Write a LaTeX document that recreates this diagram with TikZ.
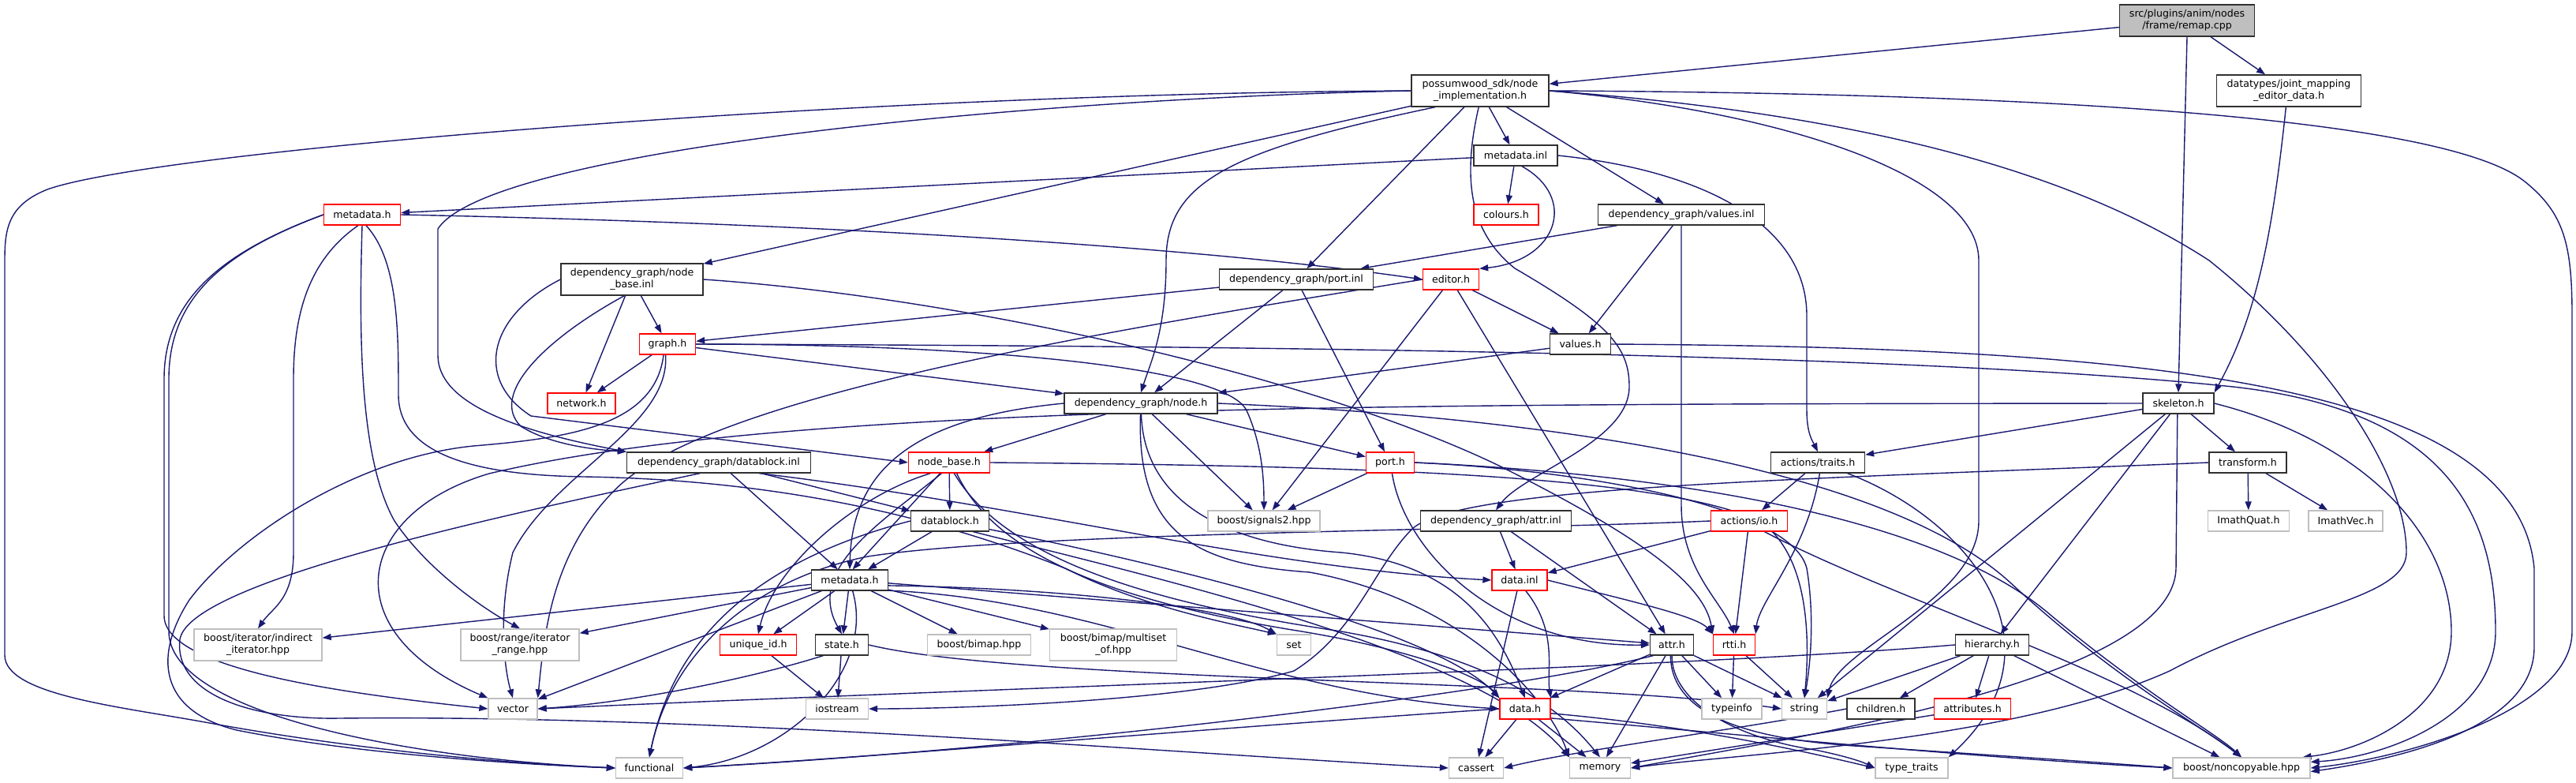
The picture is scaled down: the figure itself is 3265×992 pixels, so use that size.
\documentclass[tikz,border=0pt]{standalone}
\usepackage{fontspec}
\setmainfont{DejaVu Sans}
\usetikzlibrary{arrows.meta,backgrounds}
\definecolor{edgec}{HTML}{191970}
\definecolor{sysgray}{HTML}{BFBFBF}
\definecolor{bordk}{HTML}{303030}
\begin{document}
\begin{tikzpicture}[x=1pt,y=-1pt,
  every node/.style={font=\fontsize{12.6}{15}\selectfont, inner sep=0pt, align=center, minimum height=26pt, fill=white, text=black},
  blkbox/.style={draw=bordk, line width=1.3pt},
  redbox/.style={draw=red, line width=1.3pt},
  sysbox/.style={draw=sysgray, line width=1.3pt},
  conn/.style={draw=edgec, line width=1.4pt, -{Triangle[length=11pt,width=8pt]}}]
\path[use as bounding box] (0,0) rectangle (3265,992);
% nodes
\node[blkbox,fill=sysgray,minimum width=171pt,minimum height=40pt] (remap) at (2772,26) {src/plugins/anim/nodes\\/frame/remap.cpp};
\node[blkbox,minimum width=174pt,minimum height=40pt] (poss) at (1876,115) {possumwood\_sdk/node\\\_implementation.h};
\node[blkbox,minimum width=183pt,minimum height=40pt] (jme) at (2901,115) {datatypes/joint\_mapping\\\_editor\_data.h};
\node[blkbox,minimum width=106pt] (minl) at (1921,197) {metadata.inl};
\node[redbox,minimum width=82pt] (colours) at (1909,272) {colours.h};
\node[blkbox,minimum width=211pt] (valinl) at (2131,272) {dependency\_graph/values.inl};
\node[redbox,minimum width=97pt] (pmeta) at (459,272) {metadata.h};
\node[blkbox,minimum width=180pt,minimum height=40pt] (nbinl) at (801,354) {dependency\_graph/node\\\_base.inl};
\node[blkbox,minimum width=195pt] (portinl) at (1643,354) {dependency\_graph/port.inl};
\node[redbox,minimum width=71pt] (editor) at (1839,354) {editor.h};
\node[redbox,minimum width=71pt] (graph) at (846,436) {graph.h};
\node[blkbox,minimum width=77pt] (valh) at (2003,436) {values.h};
\node[redbox,minimum width=86pt] (network) at (737,511) {network.h};
\node[blkbox,minimum width=194pt] (nodeh) at (1446,511) {dependency\_graph/node.h};
\node[blkbox,minimum width=90pt] (skel) at (2761,511) {skeleton.h};
\node[blkbox,minimum width=233pt] (dbinl) at (911,586) {dependency\_graph/datablock.inl};
\node[redbox,minimum width=103pt] (nbh) at (1203,586) {node\_base.h};
\node[redbox,minimum width=61pt] (porth) at (1762,586) {port.h};
\node[blkbox,minimum width=119pt] (traits) at (2304,586) {actions/traits.h};
\node[blkbox,minimum width=98pt] (transform) at (2849,586) {transform.h};
\node[blkbox,minimum width=99pt] (dbh) at (1204,660) {datablock.h};
\node[sysbox,minimum width=142pt] (sig) at (1602,660) {boost/signals2.hpp};
\node[blkbox,minimum width=191pt] (attrinl) at (1896,660) {dependency\_graph/attr.inl};
\node[redbox,minimum width=97pt] (io) at (2217,660) {actions/io.h};
\node[sysbox,minimum width=103pt] (quat) at (2850,660) {ImathQuat.h};
\node[sysbox,minimum width=94pt] (vec) at (2973,660) {ImathVec.h};
\node[blkbox,minimum width=97pt] (dmeta) at (1077,735) {metadata.h};
\node[redbox,minimum width=70pt] (datainl) at (1926,735) {data.inl};
\node[sysbox,minimum width=162pt,minimum height=40pt] (indir) at (327,817) {boost/iterator/indirect\\\_iterator.hpp};
\node[sysbox,minimum width=150pt,minimum height=40pt] (range) at (659,817) {boost/range/iterator\\\_range.hpp};
\node[redbox,minimum width=97pt] (uid) at (961,817) {unique\_id.h};
\node[blkbox,minimum width=67pt] (state) at (1067,817) {state.h};
\node[sysbox,minimum width=131pt] (bimap) at (1241,817) {boost/bimap.hpp};
\node[sysbox,minimum width=161pt,minimum height=40pt] (multiset) at (1411,817) {boost/bimap/multiset\\\_of.hpp};
\node[sysbox,minimum width=43pt] (set) at (1640,817) {set};
\node[blkbox,minimum width=55pt] (attrh) at (2119,817) {attr.h};
\node[redbox,minimum width=53pt] (rtti) at (2198,817) {rtti.h};
\node[blkbox,minimum width=93pt] (hier) at (2525,817) {hierarchy.h};
\node[sysbox,minimum width=62pt] (vector) at (650,898) {vector};
\node[sysbox,minimum width=79pt] (iostream) at (1061,898) {iostream};
\node[redbox,minimum width=64pt] (datah) at (1933,898) {data.h};
\node[sysbox,minimum width=76pt] (typeinfo) at (2195,898) {typeinfo};
\node[sysbox,minimum width=57pt] (string) at (2287,898) {string};
\node[blkbox,minimum width=86pt] (children) at (2384,898) {children.h};
\node[redbox,minimum width=97pt] (attributes) at (2500,898) {attributes.h};
\node[sysbox,minimum width=85pt] (functional) at (823,973) {functional};
\node[sysbox,minimum width=69pt] (cassert) at (1871,973) {cassert};
\node[sysbox,minimum width=77pt] (memory) at (2028,973) {memory};
\node[sysbox,minimum width=92pt] (typetraits) at (2423,973) {type\_traits};
\node[sysbox,minimum width=174pt] (noncopy) at (2841,973) {boost/noncopyable.hpp};
% edges
\begin{scope}[on background layer]
% remap
\draw[conn] (remap) -- (poss);
\draw[conn] (remap) -- (jme);
\draw[conn] (remap.south) -- (skel.north);
\draw[conn] (jme.-100) .. controls (2880,300) and (2860,400) .. (skel.north east);
% possumwood
\draw[conn] (poss) -- (minl);
\draw[conn] (poss) -- (valinl);
\draw[conn] (poss) -- (nbinl);
\draw[conn] (poss) -- (portinl);
\draw[conn] (poss.200) .. controls (1560,190) and (1478,230) .. (1478,330) .. controls (1478,420) and (1458,460) .. (nodeh.north);
\draw[conn] (poss.-95) .. controls (1850,240) and (1870,300) .. (1920,340) .. controls (2040,410) and (2065,440) .. (2065,490) .. controls (2065,560) and (1930,600) .. (attrinl.north);
\draw[conn] (poss.west) .. controls (1300,125) and (620,190) .. (555,290) -- (555,450) .. controls (555,510) and (650,545) .. (dbinl.north west);
\draw[conn] (poss.west) .. controls (1100,118) and (200,190) .. (60,240) .. controls (10,260) and (6,290) .. (6,330) -- (6,830) .. controls (6,880) and (150,895) .. (260,915) .. controls (450,950) and (650,968) .. (functional.west);
\draw[conn] (poss.east) .. controls (2250,140) and (2508,220) .. (2508,330) -- (2508,660) .. controls (2508,760) and (2330,820) .. (string.north east);
\draw[conn] (poss.east) .. controls (2300,140) and (2600,200) .. (2800,330) .. controls (2950,450) and (3050,600) .. (3050,700) .. controls (3050,760) and (2900,770) .. (2750,850) .. controls (2550,940) and (2200,955) .. (memory.east);
\draw[conn] (poss.east) .. controls (2600,118) and (3100,150) .. (3200,230) .. controls (3250,270) and (3260,310) .. (3260,400) -- (3260,800) .. controls (3260,900) and (3050,960) .. (noncopy.east);
% metadata.inl
\draw[conn] (minl) -- (colours);
\draw[conn] (minl) -- (pmeta);
\draw[conn] (minl.-60) .. controls (2000,250) and (1975,330) .. (editor.north east);
\draw[conn] (minl.east) .. controls (2150,215) and (2290,280) .. (2290,400) -- (2290,520) .. controls (2290,550) and (2298,560) .. (traits.north);
% values.inl
\draw[conn] (valinl) -- (portinl);
\draw[conn] (valinl) -- (valh);
\draw[conn] (valinl.south) -- (2131,640) .. controls (2131,720) and (2180,760) .. (rtti.north);
% possumwood metadata.h
\draw[conn] (pmeta.east) .. controls (1000,282) and (1500,310) .. (editor.west);
\draw[conn] (pmeta.-110) .. controls (390,330) and (372,400) .. (372,480) -- (372,700) .. controls (372,760) and (345,770) .. (indir.north);
\draw[conn] (pmeta.south) .. controls (455,420) and (455,580) .. (500,660) .. controls (540,720) and (610,770) .. (range.north);
\draw[conn] (pmeta.west) .. controls (280,320) and (208,380) .. (208,480) -- (208,780) .. controls (208,850) and (450,880) .. (vector.west);
\draw[conn] (pmeta.west) .. controls (280,320) and (214,380) .. (214,480) -- (214,800) .. controls (214,900) and (500,960) .. (functional.west);
\draw[conn] (pmeta.-70) .. controls (505,330) and (505,420) .. (505,500) .. controls (505,575) and (600,602) .. (740,604) .. controls (1000,608) and (1200,660) .. (1350,720) .. controls (1450,770) and (1560,790) .. (set.north west);
% node_base.inl
\draw[conn] (nbinl) -- (graph);
\draw[conn] (nbinl) -- (network);
\draw[conn] (nbinl.-115) .. controls (690,430) and (620,500) .. (660,540) .. controls (700,565) and (760,570) .. (dbinl.north west);
\draw[conn] (nbinl.west) .. controls (620,400) and (600,480) .. (673,527) -- (nbh.west);
\draw[conn] (nbinl.east) .. controls (1200,375) and (1650,470) .. (1900,590) .. controls (2080,680) and (2160,740) .. (rtti.north west);
% graph.h
\draw[conn] (graph) -- (network);
\draw[conn] (graph) -- (nodeh);
\draw[conn] (graph.east) .. controls (1200,436) and (1550,460) .. (1580,520) .. controls (1598,560) and (1602,600) .. (sig.north);
\draw[conn] (graph.east) .. controls (1500,438) and (2400,445) .. (2830,490) .. controls (3100,520) and (3163,650) .. (3163,800) .. controls (3163,910) and (3020,960) .. (noncopy.5);
\draw[conn] (graph.-100) .. controls (850,540) and (700,600) .. (650,700) .. controls (630,780) and (640,850) .. (vector.north);
\draw[conn] (graph.-110) .. controls (830,540) and (720,555) .. (600,565) .. controls (450,580) and (300,680) .. (240,760) .. controls (195,830) and (200,900) .. (300,925) .. controls (450,955) and (650,968) .. (functional.west);
% port.inl
\draw[conn] (portinl) -- (graph);
\draw[conn] (portinl) -- (nodeh);
\draw[conn] (portinl) -- (porth);
% editor.h
\draw[conn] (editor) -- (valh);
\draw[conn] (editor) -- (sig);
\draw[conn] (editor) -- (attrh);
\draw[conn] (editor.west) .. controls (1400,420) and (900,500) .. (780,620) .. controls (700,700) and (690,800) .. (vector.north east);
% values.h
\draw[conn] (valh) -- (nodeh);
\draw[conn] (valh.east) .. controls (2700,440) and (3190,480) .. (3212,720) -- (3212,820) .. controls (3212,920) and (3050,960) .. (noncopy.-3);
% node.h
\draw[conn] (nodeh) -- (nbh);
\draw[conn] (nodeh) -- (porth);
\draw[conn] (nodeh) -- (sig);
\draw[conn] (nodeh.west) .. controls (1150,530) and (1080,600) .. (dmeta.north);
\draw[conn] (nodeh.-88) .. controls (1450,640) and (1560,690) .. (1700,700) .. controls (1850,715) and (1900,800) .. (datah.north);
\draw[conn] (nodeh.-92) .. controls (1440,680) and (1520,715) .. (1660,725) .. controls (1850,760) and (1960,880) .. (memory.north west);
\draw[conn] (nodeh.east) .. controls (2000,530) and (2400,600) .. (2550,740) .. controls (2680,860) and (2790,920) .. (noncopy.north);
% node_base.h
\draw[conn] (nbh) -- (dbh);
\draw[conn] (nbh.-130) -- (dmeta.75);
\draw[conn] (nbh.-150) .. controls (1080,630) and (980,720) .. (uid.north);
\draw[conn] (nbh.-125) .. controls (1120,660) and (1020,720) .. (state.north);
\draw[conn] (nbh.-55) .. controls (1260,700) and (1400,760) .. (1650,800) .. controls (1800,825) and (1880,860) .. (datah.north west);
\draw[conn] (nbh.-65) .. controls (1280,720) and (1500,770) .. (1700,800) .. controls (1900,835) and (1980,900) .. (memory.north);
\draw[conn] (nbh.east) .. controls (1700,590) and (2100,600) .. (2230,660) .. controls (2290,700) and (2295,800) .. (string.north);
% port.h
\draw[conn] (porth) -- (sig);
\draw[conn] (porth.-80) .. controls (1780,700) and (1900,820) .. (attrh.west);
\draw[conn] (porth.east) .. controls (2000,595) and (2270,640) .. (2290,720) .. controls (2300,780) and (2295,840) .. (string.north);
\draw[conn] (porth.east) .. controls (2100,600) and (2450,650) .. (2600,780) .. controls (2720,880) and (2810,930) .. (noncopy.north);
% datablock.inl
\draw[conn] (dbinl) -- (dbh);
\draw[conn] (dbinl) -- (dmeta);
\draw[conn] (dbinl.-150) .. controls (600,660) and (240,740) .. (228,810) .. controls (220,880) and (320,912) .. (430,910) .. controls (900,905) and (1500,955) .. (cassert.west);
\draw[conn] (dbinl.-15) .. controls (1300,640) and (1600,720) .. (datainl.west);
% datablock.h
\draw[conn] (dbh) -- (dmeta);
\draw[conn] (dbh.-12) .. controls (1500,720) and (1820,800) .. (datah.north west);
\draw[conn] (dbh.-25) .. controls (1500,740) and (1880,830) .. (memory.north west);
\draw[conn] (dbh.west) .. controls (1000,700) and (860,780) .. (functional.north);
% dependency_graph metadata.h
\draw[conn] (dmeta) -- (indir);
\draw[conn] (dmeta) -- (range);
\draw[conn] (dmeta) -- (uid);
\draw[conn] (dmeta) -- (state);
\draw[conn] (dmeta) -- (vector);
\draw[conn] (dmeta) -- (bimap);
\draw[conn] (dmeta) -- (multiset);
\draw[conn] (dmeta.-8) .. controls (1350,745) and (1560,770) .. (set.north west);
\draw[conn] (dmeta) -- (attrh);
\draw[conn] (dmeta.-15) .. controls (1400,760) and (1600,880) .. (datah.west);
\draw[conn] (dmeta.-75) .. controls (1110,850) and (1000,960) .. (functional.east);
% unique_id.h, state.h
\draw[conn] (uid) -- (iostream);
\draw[conn] (state) -- (iostream);
\draw[conn] (state.-150) .. controls (950,860) and (800,890) .. (vector.east);
\draw[conn] (state.east) .. controls (1300,865) and (2000,860) .. (string.west);
% data.inl, attr.inl
\draw[conn] (datainl.-60) .. controls (1975,800) and (1960,850) .. (datah.north east);
\draw[conn] (datainl) -- (cassert);
\draw[conn] (datainl.east) .. controls (2060,760) and (2150,780) .. (rtti.north west);
\draw[conn] (attrinl) -- (datainl);
\draw[conn] (attrinl) -- (attrh);
% actions
\draw[conn] (io) -- (datainl);
\draw[conn] (io) -- (rtti);
\draw[conn] (io.-35) .. controls (2400,760) and (2700,850) .. (noncopy.north);
\draw[conn] (io.west) .. controls (1900,672) and (1300,674) .. (1100,705) .. controls (950,735) and (850,830) .. (functional.north);
\draw[conn] (traits) -- (io);
\draw[conn] (traits.-80) .. controls (2290,700) and (2230,760) .. (rtti.north east);
\draw[conn] (traits.-20) .. controls (2500,660) and (2620,820) .. (typetraits.north east);
% skeleton.h
\draw[conn] (skel) -- (traits);
\draw[conn] (skel) -- (transform);
\draw[conn] (skel) -- (hier);
\draw[conn] (skel) -- (string);
\draw[conn] (skel.-95) -- (2758,720) .. controls (2755,860) and (2300,930) .. (memory.east);
\draw[conn] (skel.east) .. controls (3000,560) and (3107,680) .. (3107,800) .. controls (3107,900) and (3000,950) .. (noncopy.10);
\draw[conn] (skel.west) .. controls (1800,512) and (1000,510) .. (620,600) .. controls (450,650) and (420,800) .. (vector.north west);
% transform.h
\draw[conn] (transform) -- (quat);
\draw[conn] (transform) -- (vec);
\draw[conn] (transform.west) .. controls (2300,607) and (1850,615) .. (1790,670) .. controls (1740,720) and (1720,800) .. (1640,850) .. controls (1500,890) and (1200,898) .. (iostream.east);
% hierarchy.h
\draw[conn] (hier) -- (children);
\draw[conn] (hier) -- (attributes);
\draw[conn] (hier) -- (string);
\draw[conn] (hier) -- (noncopy);
\draw[conn] (hier.west) .. controls (2150,845) and (1300,870) .. (vector.east);
\draw[conn] (children.west) .. controls (2200,925) and (2000,950) .. (cassert.east);
\draw[conn] (attributes) -- (memory);
% attr.h
\draw[conn] (attrh) -- (typeinfo);
\draw[conn] (attrh) -- (string);
\draw[conn] (attrh) -- (datah);
\draw[conn] (attrh) -- (memory);
\draw[conn] (attrh.-150) .. controls (1900,880) and (1300,950) .. (functional.east);
\draw[conn] (attrh.-90) .. controls (2119,890) and (2200,935) .. (2300,950) .. controls (2340,958) and (2360,965) .. (typetraits.west);
\draw[conn] (attrh.-97) .. controls (2118,900) and (2200,935) .. (2350,945) .. controls (2500,955) and (2650,965) .. (noncopy.west);
% rtti.h
\draw[conn] (rtti) -- (typeinfo);
\draw[conn] (rtti) -- (string);
% data.h
\draw[conn] (datah) -- (cassert);
\draw[conn] (datah) -- (memory);
\draw[conn] (datah.west) .. controls (1500,925) and (1100,960) .. (functional.east);
\draw[conn] (datah.-20) .. controls (2200,930) and (2500,960) .. (noncopy.west);
\draw[conn] (datah.-10) .. controls (2150,920) and (2300,955) .. (typetraits.west);
\end{scope}
\end{tikzpicture}
\end{document}
